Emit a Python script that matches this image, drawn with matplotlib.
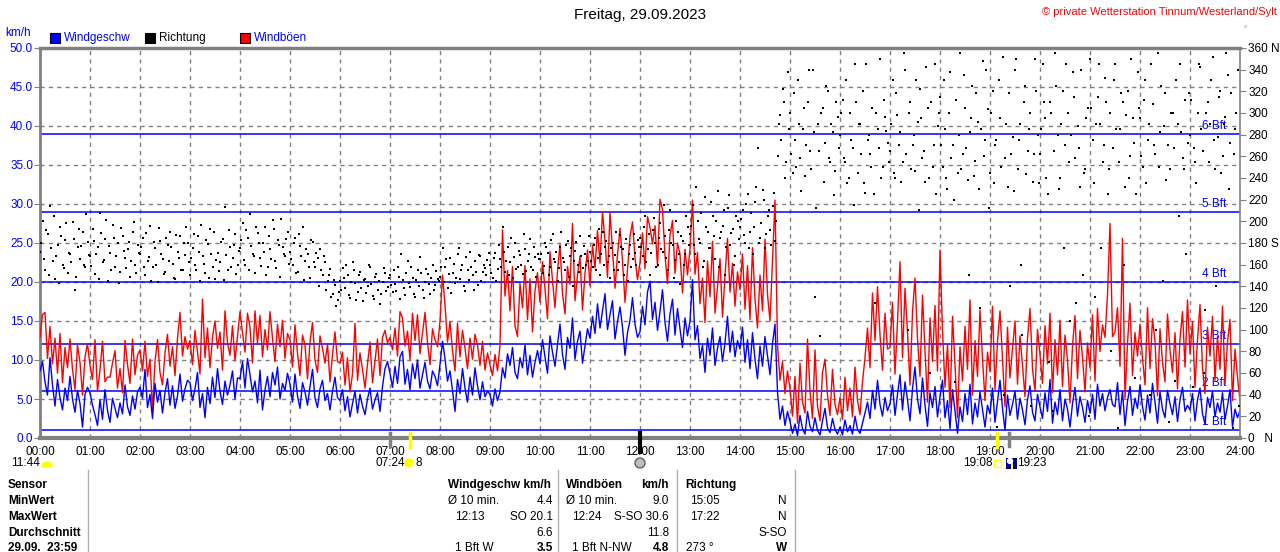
import numpy as np
import matplotlib.pyplot as plt
from matplotlib.transforms import IdentityTransform, blended_transform_factory
from matplotlib.patches import Rectangle, Circle, Wedge

plt.rcParams['font.family'] = ['Liberation Sans', 'DejaVu Sans']

# 3-minute readings, one row per hour (00:00 ... 23:57), km/h
speed = [
    8.6, 9.8, 7.2, 5.5, 10.3, 6.8, 4.1, 7.5, 5.2, 3.6, 6.4, 4.8, 7.9, 5.0, 3.3, 6.1, 4.4, 1.4, 5.6, 6.5,
    5.8, 4.2, 3.0, 1.6, 4.9, 2.4, 6.2, 3.5, 2.0, 5.1, 3.8, 2.6, 4.5, 3.1, 6.8, 4.0, 2.9, 5.4, 3.7, 5.9,
    6.5, 5.1, 8.8, 3.9, 5.6, 2.5, 7.0, 4.6, 6.1, 3.2, 5.8, 7.6, 4.2, 6.7, 3.8, 5.4, 8.2, 4.7, 6.3, 7.4,
    7.1, 4.8, 6.3, 8.4, 3.9, 5.7, 2.6, 6.5, 4.4, 7.8, 5.2, 8.9, 6.0, 4.3, 7.3, 5.5, 6.8, 8.6, 5.0, 7.7,
    7.6, 9.8, 6.4, 10.2, 8.1, 5.9, 7.3, 4.5, 8.7, 3.6, 6.2, 7.9, 5.3, 8.4, 6.8, 9.1, 5.0, 7.0, 6.1, 8.3,
    6.9, 4.6, 8.2, 5.4, 3.8, 7.1, 5.9, 4.2, 6.6, 8.8, 5.1, 3.9, 6.3, 7.4, 4.8, 5.7, 3.6, 6.0, 7.8, 5.2,
    4.8, 6.2, 3.5, 5.3, 2.7, 4.4, 6.0, 3.2, 5.6, 4.1, 3.0, 5.0, 6.4, 3.7, 4.9, 5.8, 3.4, 6.6, 8.9, 9.8,
    8.3, 6.5, 9.2, 7.0, 10.4, 11.1, 6.9, 8.8, 6.2, 9.5, 7.6, 10.0, 6.4, 8.1, 9.7, 7.3, 6.3, 8.6, 7.9, 6.7,
    9.4, 12.4, 10.2, 7.3, 8.6, 6.1, 3.4, 7.5, 5.7, 8.9, 6.4, 4.6, 7.8, 5.5, 9.0, 6.7, 4.9, 7.2, 5.3, 6.0,
    5.6, 4.1, 6.3, 4.8, 5.9, 9.0, 7.7, 10.8, 9.3, 11.6, 8.4, 7.6, 10.3, 9.0, 11.9, 8.1, 10.6, 7.8, 9.7, 11.2,
    9.5, 12.6, 10.4, 8.3, 13.1, 11.0, 9.2, 12.0, 14.6, 10.7, 8.8, 12.9, 11.5, 15.4, 10.1, 12.4, 13.7, 9.6, 11.8, 14.0,
    12.8, 15.6, 13.4, 17.2, 14.1, 16.3, 18.5, 13.9, 15.8, 17.6, 12.7, 14.9, 16.8, 14.2, 10.6, 13.5, 15.1, 18.0, 14.6, 12.9,
    13.6, 16.9, 14.5, 18.7, 20.1, 15.2, 17.4, 13.8, 16.2, 19.0, 14.8, 12.4, 15.9, 17.8, 13.2, 16.6, 14.0, 11.6, 15.4, 13.1,
    15.0, 20.3, 12.6, 14.4, 10.2, 11.9, 8.4, 12.8, 10.6, 14.1, 9.3, 11.5, 13.0, 9.8, 12.2, 15.6, 11.0, 13.7, 10.4, 12.5,
    11.4, 14.2, 9.7, 12.6, 8.9, 13.5, 10.1, 7.6, 11.8, 9.2, 13.0, 10.5, 8.1, 12.1, 14.6, 5.9, 2.4, 4.1, 1.6, 3.4,
    2.1, 0.6, 1.8, 0.3, 2.9, 1.2, 0.5, 3.4, 1.5, 0.8, 2.6, 1.0, 0.4, 2.2, 3.8, 1.3, 0.7, 2.5, 1.1, 0.5,
    1.4, 0.4, 2.3, 0.8, 1.6, 0.5, 2.8, 1.1, 0.6, 1.9, 3.2, 4.6, 2.5, 6.1, 3.7, 7.4, 4.3, 2.8, 5.2, 3.5,
    4.4, 6.8, 2.9, 5.6, 8.1, 3.6, 7.2, 4.9, 2.2, 6.3, 9.1, 5.0, 3.1, 7.7, 4.2, 1.5, 5.8, 3.9, 6.6, 2.7,
    5.3, 7.4, 2.6, 4.8, 1.2, 6.2, 3.5, 0.6, 4.0, 2.1, 5.7, 3.0, 6.9, 1.8, 4.5, 2.7, 5.9, 3.6, 1.4, 4.2,
    3.1, 6.4, 2.0, 4.7, 7.4, 3.8, 1.0, 5.5, 2.9, 4.3, 6.0, 2.4, 5.1, 3.6, 1.7, 4.9, 6.7, 3.3, 2.2, 5.6,
    4.0, 2.5, 5.8, 3.4, 7.5, 1.9, 4.6, 3.0, 6.2, 2.2, 5.0, 3.7, 1.4, 4.4, 6.5, 2.8, 5.3, 3.9, 2.0, 4.8,
    3.2, 5.6, 2.4, 6.9, 4.1, 5.7, 3.5, 5.2, 6.2, 4.3, 4.0, 7.1, 3.0, 6.0, 1.6, 4.7, 6.6, 2.9, 5.1, 3.8,
    6.8, 4.0, 2.3, 5.5, 3.2, 7.0, 4.6, 1.9, 5.9, 3.7, 2.6, 6.1, 4.4, 3.0, 5.3, 2.1, 4.9, 6.5, 3.4, 4.2,
    3.6, 5.7, 2.2, 4.9, 6.4, 3.1, 1.8, 5.2, 3.9, 6.0, 2.7, 4.5, 3.3, 5.8, 2.4, 4.1, 6.2, 1.4, 3.7, 2.6,
    3.5,
]

gust = [
    12.9, 15.8, 16.1, 10.2, 14.3, 9.5, 12.8, 8.3, 13.4, 7.1, 11.6, 9.0, 12.7, 8.8, 6.2, 11.9, 9.7, 5.5, 10.4, 12.1,
    9.3, 7.5, 12.6, 6.0, 8.7, 12.4, 7.2, 7.8, 7.8, 9.6, 11.2, 6.4, 8.9, 5.8, 12.5, 9.4, 7.0, 12.7, 8.1, 10.6,
    11.3, 8.6, 12.4, 7.9, 10.1, 3.4, 9.8, 12.6, 8.4, 6.8, 10.9, 13.3, 9.2, 11.7, 8.0, 12.8, 16.1, 10.5, 13.0, 11.4,
    12.5, 9.4, 13.8, 11.0, 8.2, 17.8, 10.3, 14.1, 9.0, 12.9, 15.0, 11.5, 13.6, 8.7, 16.3, 12.2, 10.6, 14.4, 9.9, 13.1,
    16.2, 13.5, 11.0, 16.0, 14.2, 9.6, 16.3, 12.1, 15.7, 10.4, 13.9, 11.3, 16.2, 12.8, 9.8, 14.6, 11.7, 15.1, 10.2, 13.4,
    12.6, 9.1, 14.5, 10.8, 8.0, 13.2, 11.9, 7.6, 12.3, 14.8, 10.0, 8.4, 13.1, 11.5, 9.6, 12.0, 7.2, 10.7, 13.6, 9.8,
    9.6, 11.0, 6.8, 10.3, 5.9, 8.2, 14.7, 7.4, 10.9, 8.8, 6.4, 9.5, 12.3, 7.1, 9.9, 12.7, 8.0, 12.9, 13.8, 12.2,
    12.9, 11.3, 14.1, 10.5, 16.2, 15.4, 11.8, 13.7, 10.0, 16.0, 12.5, 15.8, 10.8, 13.4, 16.1, 12.2, 9.4, 14.0, 12.6, 11.7,
    15.0, 20.9, 17.1, 12.3, 14.9, 11.2, 8.6, 14.7, 10.4, 13.8, 11.5, 8.9, 12.8, 10.1, 13.3, 11.9, 9.3, 12.4, 8.7, 10.9,
    9.4, 8.0, 10.7, 8.6, 11.9, 26.7, 18.2, 21.5, 16.3, 22.0, 14.4, 13.0, 19.8, 16.7, 22.1, 15.2, 20.4, 13.6, 18.9, 21.2,
    17.4, 22.6, 19.1, 15.3, 23.9, 20.2, 16.7, 21.4, 24.8, 18.5, 15.9, 22.0, 19.7, 27.5, 17.6, 20.9, 23.3, 16.4, 21.1, 24.1,
    19.5, 24.7, 21.8, 26.6, 22.4, 29.0, 25.3, 20.6, 28.9, 24.0, 19.2, 23.5, 26.9, 22.7, 17.4, 21.6, 25.8, 27.7, 23.1, 20.3,
    22.5, 26.3, 21.7, 28.4, 27.0, 24.9, 27.2, 22.0, 30.6, 29.3, 23.4, 19.8, 26.0, 27.9, 21.1, 25.0, 23.6, 18.6, 24.2, 20.9,
    24.3, 30.5, 21.0, 23.8, 17.2, 20.5, 14.8, 22.7, 18.1, 25.2, 16.0, 19.4, 23.0, 15.5, 20.8, 25.6, 18.7, 22.4, 16.9, 21.3,
    19.0, 23.6, 16.5, 22.1, 15.2, 24.4, 17.8, 14.1, 20.9, 16.3, 25.5, 18.4, 15.0, 22.8, 30.5, 12.0, 7.4, 9.8, 5.7, 8.6,
    6.3, 2.8, 7.9, 1.9, 9.6, 4.6, 3.2, 12.7, 6.0, 2.5, 11.3, 4.1, 2.2, 8.4, 10.1, 5.5, 2.9, 8.8, 4.3, 3.0,
    5.2, 2.4, 7.8, 3.5, 6.4, 2.7, 9.1, 4.8, 3.0, 7.2, 10.3, 14.1, 9.0, 18.6, 12.5, 19.4, 13.2, 8.7, 16.0, 11.4,
    11.6, 17.4, 8.2, 14.9, 22.6, 10.3, 19.2, 13.5, 6.8, 16.1, 20.5, 12.7, 7.9, 18.3, 11.2, 4.6, 15.4, 9.8, 17.0, 8.6,
    24.1, 13.8, 6.5, 12.0, 3.9, 15.6, 9.4, 2.6, 11.7, 7.3, 14.3, 8.8, 17.7, 5.5, 12.5, 7.9, 16.4, 10.2, 4.8, 11.0,
    8.5, 16.9, 6.2, 12.4, 16.3, 10.1, 4.0, 14.2, 7.7, 11.5, 15.0, 6.9, 13.1, 9.3, 5.3, 12.8, 16.6, 8.9, 6.0, 13.9,
    10.7, 7.0, 14.4, 9.5, 16.0, 5.8, 12.6, 8.1, 15.1, 6.6, 13.2, 10.0, 4.5, 11.8, 15.7, 7.6, 13.8, 10.4, 5.9, 12.2,
    9.0, 15.8, 7.3, 16.6, 11.1, 14.5, 12.9, 18.4, 27.5, 13.0, 13.6, 16.7, 9.2, 25.6, 5.1, 12.1, 17.3, 8.0, 13.5, 10.5,
    14.6, 10.2, 6.8, 16.7, 8.9, 15.3, 12.4, 5.4, 14.0, 9.7, 7.2, 15.9, 11.3, 8.4, 13.5, 6.3, 12.7, 16.2, 9.1, 17.7,
    10.8, 14.9, 6.5, 12.6, 17.1, 9.0, 5.7, 14.2, 10.5, 15.6, 7.4, 13.0, 8.8, 16.9, 6.9, 12.3, 15.2, 4.8, 11.4, 7.8,
    4.8,
]

# wind direction in degrees, same 3-minute steps
direction = [
    172, 200, 155, 188, 214, 163, 147, 178, 195, 160, 183, 152, 170, 199, 137, 176, 165, 190, 158, 181,
    168, 193, 151, 176, 208, 162, 184, 145, 171, 197, 158, 180, 153, 186, 166, 174, 149, 190, 160, 178,
    170, 185, 150, 163, 196, 158, 175, 144, 182, 165, 153, 178, 190, 161, 147, 172, 186, 155, 169, 180,
    150, 175, 160, 186, 145, 168, 152, 179, 193, 158, 147, 171, 162, 184, 213, 155, 176, 166, 188, 160,
    175, 198, 160, 185, 207, 170, 152, 189, 166, 180, 195, 158, 174, 201, 163, 183, 149, 176, 168, 190,
    172, 160, 185, 153, 177, 195, 163, 170, 148, 181, 158, 166, 174, 150, 162, 145, 156, 133, 141, 127,
    145, 157, 138, 150, 129, 162, 143, 135, 153, 126, 147, 140, 158, 131, 149, 137, 124, 144, 152, 139,
    150, 135, 142, 158, 128, 146, 132, 163, 139, 148, 130, 155, 167, 137, 144, 151, 133, 160, 141, 147,
    149, 175, 158, 138, 166, 152, 143, 170, 147, 160, 136, 155, 172, 150, 163, 141, 168, 153, 157, 164,
    160, 148, 171, 156, 165, 195, 153, 176, 162, 148, 180, 158, 169, 151, 174, 163, 184, 155, 167, 170,
    165, 152, 180, 171, 158, 188, 162, 145, 176, 166, 155, 182, 168, 140, 173, 160, 186, 157, 170, 163,
    172, 158, 185, 166, 150, 190, 176, 162, 148, 180, 169, 155, 187, 174, 160, 145, 178, 165, 171, 183,
    185, 168, 205, 174, 150, 192, 180, 160, 198, 172, 186, 155, 210, 178, 164, 190, 142, 182, 170, 195,
    188, 215, 170, 200, 180, 158, 222, 190, 175, 205, 165, 228, 185, 196, 150, 212, 178, 193, 168, 200,
    195, 210, 180, 225, 190, 170, 218, 268, 185, 229, 175, 205, 192, 214, 182, 260, 298, 322, 240, 338,
    300, 245, 275, 330, 258, 285, 242, 310, 265, 340, 130, 290, 94, 305, 272, 320, 255, 282, 246, 296,
    280, 312, 255, 235, 300, 268, 345, 245, 290, 320, 226, 275, 262, 305, 125, 285, 350, 250, 296, 272,
    265, 330, 240, 298, 282, 255, 340, 100, 310, 270, 246, 292, 322, 258, 236, 305, 60, 250, 345, 288,
    315, 250, 285, 230, 338, 270, 52, 245, 355, 262, 305, 238, 282, 325, 256, 292, 120, 348, 275, 304,
    245, 320, 270, 10, 295, 352, 258, 232, 140, 278, 340, 248, 290, 95, 325, 265, 300, 236, 350, 280,
    262, 345, 295, 225, 310, 25, 355, 280, 240, 320, 270, 300, 108, 338, 258, 288, 232, 150, 248, 305,
    350, 275, 130, 315, 290, 255, 332, 225, 300, 268, 345, 9, 285, 310, 232, 320, 260, 295, 55, 338,
    295, 250, 330, 275, 40, 308, 262, 355, 282, 145, 318, 270, 248, 300, 53, 290, 345, 258, 312, 272,
    280, 47, 255, 300, 342, 265, 118, 310, 290, 352, 248, 278, 320, 260, 296, 335, 272, 9, 285, 340,
]

# direction readings in between (1.5 minutes later)
direction_mid = [
    180, 165, 192, 150, 175, 205, 168, 143, 186, 157, 198, 171, 162, 184, 149, 193, 177, 160, 207, 169,
    159, 182, 170, 147, 189, 164, 201, 177, 155, 185, 168, 143, 194, 173, 157, 181, 163, 199, 152, 171,
    176, 158, 189, 167, 145, 181, 160, 194, 170, 151, 185, 163, 176, 148, 187, 166, 155, 180, 195, 162,
    166, 188, 155, 172, 197, 161, 183, 148, 170, 190, 164, 154, 181, 146, 169, 192, 158, 178, 151, 173,
    183, 164, 192, 155, 177, 168, 195, 180, 159, 172, 150, 186, 165, 193, 157, 178, 202, 170, 184, 161,
    165, 180, 152, 188, 168, 146, 174, 158, 183, 162, 171, 140, 155, 168, 137, 150, 130, 146, 122, 135,
    137, 148, 160, 132, 144, 155, 127, 150, 138, 146, 134, 160, 142, 128, 151, 145, 133, 157, 136, 148,
    141, 155, 136, 149, 170, 138, 152, 143, 158, 133, 146, 140, 152, 129, 156, 142, 148, 137, 154, 145,
    158, 144, 165, 151, 134, 161, 148, 175, 155, 140, 167, 146, 158, 137, 153, 169, 145, 160, 150, 171,
    152, 166, 145, 178, 158, 172, 163, 150, 185, 167, 156, 173, 160, 188, 154, 170, 158, 176, 149, 165,
    170, 159, 176, 150, 183, 165, 172, 157, 190, 162, 178, 149, 175, 163, 181, 153, 168, 177, 160, 186,
    163, 178, 155, 193, 170, 160, 182, 168, 175, 155, 190, 162, 176, 150, 184, 170, 158, 188, 160, 176,
    176, 195, 162, 188, 171, 203, 158, 185, 174, 215, 166, 192, 180, 148, 200, 170, 186, 160, 205, 178,
    196, 178, 232, 184, 208, 163, 195, 175, 218, 186, 200, 158, 190, 210, 176, 224, 189, 160, 205, 184,
    202, 187, 216, 175, 208, 195, 232, 180, 198, 220, 188, 210, 178, 226, 200, 290, 275, 310, 255, 285,
    262, 318, 250, 290, 228, 305, 270, 340, 248, 282, 212, 265, 300, 236, 325, 258, 290, 224, 310, 268,
    300, 258, 330, 240, 275, 215, 310, 290, 262, 235, 345, 280, 250, 225, 300, 268, 240, 312, 283, 255,
    290, 245, 318, 270, 236, 355, 262, 300, 248, 280, 330, 210, 295, 265, 342, 240, 310, 270, 225, 300,
    270, 330, 240, 300, 258, 220, 312, 280, 248, 335, 268, 150, 295, 242, 318, 230, 285, 260, 340, 212,
    300, 235, 275, 330, 250, 40, 290, 318, 262, 228, 350, 275, 160, 310, 244, 285, 30, 262, 320, 235,
    285, 310, 240, 70, 300, 265, 325, 230, 290, 175, 345, 255, 280, 315, 125, 268, 340, 245, 295, 20,
    305, 235, 290, 345, 175, 270, 310, 248, 80, 330, 285, 255, 318, 160, 298, 240, 350, 272, 225, 305,
    260, 312, 235, 290, 345, 270, 100, 250, 325, 288, 238, 15, 300, 268, 330, 205, 282, 248, 170, 318,
    312, 268, 235, 345, 285, 60, 300, 255, 330, 275, 140, 315, 245, 290, 355, 230, 318, 262, 300, 30,
]

bft_limits = [1, 6, 12, 20, 29, 39]
bft_names = ['1 Bft', '2 Bft', '3 Bft', '4 Bft', '5 Bft', '6 Bft']
hour_labels = ['%02d:00' % h for h in range(25)]
dir_ticks = list(range(0, 361, 20))
dir_labels = ['0   N' if d == 0 else '180 S' if d == 180 else '360 N' if d == 360 else str(d) for d in dir_ticks]

# sun / moon marks under the time axis (hours)
sun_rise, sun_set = 7 + 24 / 60, 19 + 8 / 60
moon_marks = [7.0, 19 + 23 / 60]
noon = 12.0

BLUE = '#0000ff'
GRAY = '#808080'
W, H = 1280, 552

t = np.arange(len(speed)) / 20.0
t_dir = np.arange(len(direction)) / 20.0
t_dir_mid = t_dir + 0.025

fig = plt.figure(figsize=(W / 100, H / 100), dpi=100)
ax = fig.add_axes([40 / W, 1 - 438 / H, 1200 / W, 390 / H])


def ftext(x, y, s, **kw):
    kw.setdefault('fontsize', 8.5)
    kw.setdefault('va', 'center')
    fig.text(x / W, 1 - y / H, s, **kw)


# grid
for h in range(1, 24):
    ax.axvline(h, color=GRAY, lw=1, ls=(0, (3, 3)), zorder=1)
for v in range(5, 50, 5):
    ax.axhline(v, color=GRAY, lw=1, ls=(0, (3, 3)), zorder=1)

# beaufort lines
for v, name in zip(bft_limits, bft_names):
    ax.axhline(v, color=BLUE, lw=1.1, zorder=2)
    ax.text(23.72, v + 0.25, name, color=BLUE, fontsize=8.5, ha='right', va='bottom', zorder=1.5)

ax.plot(t, gust, color='#ff0000', lw=1.0, zorder=3)
ax.plot(t, speed, color=BLUE, lw=1.0, zorder=4)

ax.set_xlim(0, 24)
ax.set_ylim(0, 50)
ax.set_xticks(range(25))
ax.set_xticklabels(hour_labels)
ax.set_yticks(np.arange(0, 51, 5))
ax.set_yticklabels(['%.1f' % v for v in np.arange(0, 51, 5)])
ax.tick_params(axis='x', length=0, pad=6, labelsize=8.5)
ax.tick_params(axis='y', length=4, color=GRAY, labelcolor=BLUE, labelsize=8.5, pad=1)
ax.spines['top'].set_color(GRAY)
ax.spines['top'].set_linewidth(2.5)
ax.spines['bottom'].set_color(GRAY)
ax.spines['bottom'].set_linewidth(3)
ax.spines['left'].set_color(GRAY)
ax.spines['left'].set_linewidth(2)
ax.spines['right'].set_visible(False)

# direction on the right axis
ax2 = ax.twinx()
ax2.plot(t_dir, direction, 's', ms=1.6, mew=0, color='black', antialiased=False, zorder=5)
ax2.plot(t_dir_mid, direction_mid, 's', ms=1.6, mew=0, color='black', antialiased=False, zorder=5)
ax2.set_ylim(0, 360)
ax2.set_yticks(dir_ticks)
ax2.set_yticklabels(dir_labels)
ax2.tick_params(axis='y', length=4, color=GRAY, labelsize=8.5, pad=2)
for s in ['top', 'bottom', 'left']:
    ax2.spines[s].set_visible(False)
ax2.spines['right'].set_color(GRAY)
ax2.spines['right'].set_linewidth(1.2)

# sun / moon markers at the axis
tr = blended_transform_factory(ax.transData, ax.transAxes)
for x in moon_marks:
    ax.plot([x, x], [0.013, -0.02], color=GRAY, lw=2.5, transform=tr, clip_on=False, zorder=6)
for x in [sun_rise, sun_set]:
    ax.plot([x, x], [0.013, -0.022], color='#ffff00', lw=2.5, transform=tr, clip_on=False, zorder=6)
ax.plot([noon, noon], [0.013, -0.036], color='black', lw=3, transform=tr, clip_on=False, zorder=6)

# header
ftext(640, 15, 'Freitag, 29.09.2023', fontsize=11, ha='center')
ftext(1277, 12, '\u00a9 private Wetterstation Tinnum/Westerland/Sylt', fontsize=8, color='#ff0000', ha='right')
ftext(5, 33, 'km/h', color=BLUE)
ftext(1243, 30, '\u00b0', fontsize=6, color=GRAY)

idt = IdentityTransform()
for x0, col, label, tcol in [(50, BLUE, 'Windgeschw', BLUE), (145, 'black', 'Richtung', 'black'),
                             (240, '#ff0000', 'Windb\u00f6en', BLUE)]:
    fig.add_artist(Rectangle((x0, H - 43), 10, 10, facecolor=col, edgecolor='black', lw=0.8, transform=idt))
    ftext(x0 + 14, 38, label, color=tcol)

# sun / moon info below the axis
ftext(11, 463, '11:44')
fig.add_artist(Wedge((47, H - 467), 5, 0, 180, color='#ffff00', transform=idt))
ftext(376, 463, '07:24')
fig.add_artist(Circle((409, H - 463), 4, color='#ffff00', transform=idt))
ftext(415, 463, '8')
fig.add_artist(Circle((640, H - 463), 5, facecolor='#c0c0c0', edgecolor='#606060', lw=1, transform=idt))
ftext(963, 463, '19:08')
fig.add_artist(Rectangle((994, H - 467), 7, 7, facecolor='white', edgecolor='#ffff00', lw=1, transform=idt))
fig.add_artist(Rectangle((1006, H - 469), 11, 11, facecolor='#000080', transform=idt))
fig.add_artist(Circle((1010, H - 461), 2.5, color='white', transform=idt))
fig.add_artist(Rectangle((1011, H - 469), 2, 6, facecolor='#ffff00', transform=idt))
ftext(1017, 463, '19:23')

# table
rows_y = [485, 501, 517, 533, 548]
for y, s in zip(rows_y, ['Sensor', 'MinWert', 'MaxWert', 'Durchschnitt', '29.09.  23:59']):
    ftext(8, y, s, fontweight='bold')
for x in [88, 558, 677, 795]:
    fig.add_artist(plt.Line2D([x, x], [0, H - 470], color='#b0b0b0', lw=1, transform=idt))

ftext(448, rows_y[0], 'Windgeschw km/h', fontweight='bold')
ftext(448, rows_y[1], '\u00d8 10 min.')
ftext(553, rows_y[1], '4.4', ha='right')
ftext(455, rows_y[2], '12:13')
ftext(553, rows_y[2], 'SO 20.1', ha='right')
ftext(553, rows_y[3], '6.6', ha='right')
ftext(455, rows_y[4], '1 Bft W')
ftext(553, rows_y[4], '3.5', ha='right', fontweight='bold')

ftext(566, rows_y[0], 'Windb\u00f6en', fontweight='bold')
ftext(669, rows_y[0], 'km/h', ha='right', fontweight='bold')
ftext(566, rows_y[1], '\u00d8 10 min.')
ftext(669, rows_y[1], '9.0', ha='right')
ftext(572, rows_y[2], '12:24')
ftext(669, rows_y[2], 'S-SO 30.6', ha='right')
ftext(669, rows_y[3], '11.8', ha='right')
ftext(572, rows_y[4], '1 Bft N-NW')
ftext(669, rows_y[4], '4.8', ha='right', fontweight='bold')

ftext(685, rows_y[0], 'Richtung', fontweight='bold')
ftext(690, rows_y[1], '15:05')
ftext(787, rows_y[1], 'N', ha='right')
ftext(690, rows_y[2], '17:22')
ftext(787, rows_y[2], 'N', ha='right')
ftext(787, rows_y[3], 'S-SO', ha='right')
ftext(686, rows_y[4], '273 \u00b0')
ftext(787, rows_y[4], 'W', ha='right', fontweight='bold')

fig.savefig('out.png', dpi=100)
